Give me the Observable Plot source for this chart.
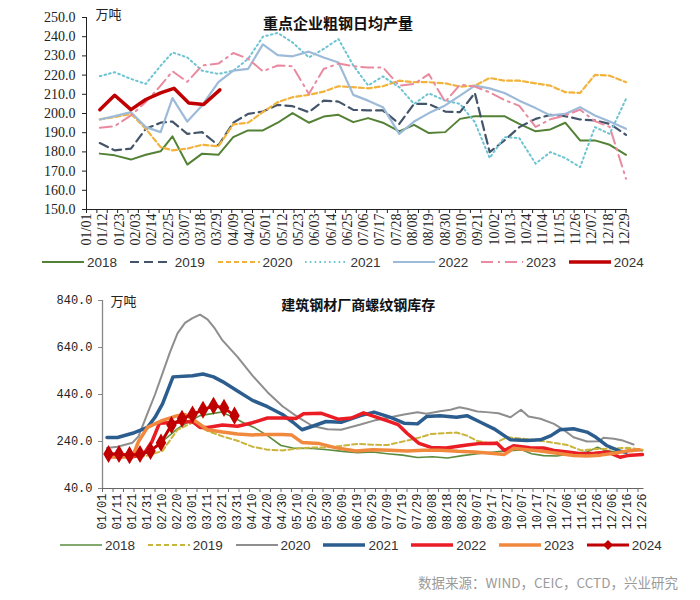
<!DOCTYPE html>
<html><head><meta charset="utf-8">
<script src="https://cdn.jsdelivr.net/npm/d3@7"></script>
<script src="https://cdn.jsdelivr.net/npm/@observablehq/plot@0.6"></script>
<style>
body{margin:0;background:#fff;}
#wrap{position:relative;width:700px;height:600px;overflow:hidden;background:#fff;}
.chart{position:absolute;left:0;}
.legend{position:absolute;display:flex;font-family:"Liberation Sans",Arial,sans-serif;font-size:13.5px;color:#333;height:16px;}
.legend .item{display:flex;align-items:center;width:87.8px;}
.legend svg{margin-right:3px;}
#source{position:absolute;right:22px;top:572px;font-family:"Noto Sans CJK SC",sans-serif;font-size:13.5px;color:#9a9a9a;}
</style></head>
<body>
<div id="wrap">
  <div id="top" class="chart" style="top:0px"></div>
  <div id="legTop" class="legend" style="left:42px;top:254px"></div>
  <div id="bot" class="chart" style="top:280px"></div>
  <div id="legBot" class="legend" style="left:60px;top:537px"></div>
  <div id="source">数据来源：WIND，CEIC，CCTD，兴业研究</div>
</div>
<script>
// ---------- data ----------
const years = ["2018","2019","2020","2021","2022","2023","2024"];
const titleTop = "重点企业粗钢日均产量";
const titleBot = "建筑钢材厂商螺纹钢库存";
const unit = "万吨";

// top chart: crude steel daily output (day-of-year of each dekad end)
const topDays = [10,20,31,41,51,59,69,79,90,100,110,120,130,140,151,161,171,181,191,201,212,222,232,243,253,263,273,283,293,304,314,324,334,344,354,365];
const out2018 = [179.1,178.2,176,178.5,180.3,188.1,173.4,179.1,178.5,187.7,191.2,191.2,195.2,200.2,195.2,198.4,199.3,195.5,197.6,195.2,190.7,194.1,189.8,190.3,197.2,198.6,198.6,198.6,194.6,190.7,191.7,195.2,186,186,183.7,178.5];
const out2019 = [184.6,180.8,181.7,192,195.2,195.8,189.4,190.3,183.4,195.2,199.8,201,204.5,203.8,200.7,206.7,206.2,201.9,201.6,201.6,194.6,205,205,201,200.7,210.7,179.9,186,192.9,197.2,199.3,198.6,196.9,196.4,194.6,188.9];
const out2020 = [196.9,198.1,199.8,192,182.5,180.8,181.7,183.7,182.9,194.3,195.2,200.7,205.9,208.5,209.7,211.4,214.2,213.7,213.1,214.2,217.1,216.3,216.3,215.7,214,214.5,218.5,217.1,217.1,215.7,214.5,211.1,210.7,220.1,219.7,216.3];
const out2021 = [219.4,221.5,218,215.4,224.9,231.8,229.2,222.3,220.6,222.3,228.4,240,242,237,229.2,233.6,238.8,225,214.6,219.3,213.7,205,210.5,206.7,205,195.5,176.8,187.7,187.2,173.9,179.9,176.8,172.1,192.9,189.4,207.6];
const out2022 = [196.9,198.6,200.7,192.9,190.3,208,195.8,204.2,216.3,222.3,223.2,236,230.4,229.8,232.2,229.2,226.6,209.7,206.7,203.3,189.4,195.8,200.2,204.2,209.3,214.5,213.1,210.7,206.7,202.8,199,199.8,203.3,199,195.8,192];
const out2023 = [192.6,193.4,199,206,214.5,222,216.5,225,226,231.5,228.5,222,225,224.6,210.2,223.2,226,224.6,224,224,214.5,215.4,220.5,206,215,214,211,207,204,193,197,199,202,196,193,166];
const out2024Days = [10,20,31,41,51,60,70,80,91];
const out2024 = [202,209.5,202,207.3,210.7,213.1,205.5,204.7,212.3];

// bottom chart: rebar inventory at mills
const inv2018Days = [4,11,21,31,41,51,56,66,80,86,95,102,111,120,128,141,151,161,171,181,191,201,211,221,231,241,251,261,271,281,287,295,304,315,324,331,336,344,353,361];
const inv2018 = [190,188,185,190,240,295,315,350,365,350,320,300,265,223,212,210,205,198,192,195,188,182,172,175,170,180,188,194,201,204,188,180,178,190,195,216,202,195,204,201];
const inv2019Days = [4,11,21,31,41,51,61,66,71,81,91,101,111,121,131,141,151,161,171,181,191,204,213,220,237,244,251,261,271,281,291,301,311,320,331,341,351,361];
const inv2019 = [178,175,172,180,200,290,320,300,285,262,243,218,205,202,210,214,215,222,230,226,225,244,258,272,278,265,242,230,258,252,245,235,225,202,208,210,213,205];
const inv2020Days = [4,11,21,25,31,36,41,46,51,56,61,66,71,76,81,91,101,111,121,131,141,151,160,173,182,193,202,211,217,226,233,239,244,251,257,265,273,280,285,293,302,309,315,324,332,335,342,348,355];
const inv2020 = [212,218,235,262,360,440,530,620,700,745,765,780,760,720,670,600,520,450,390,345,306,292,290,312,329,343,355,364,358,369,375,386,379,368,365,360,343,375,346,337,315,287,258,240,241,256,252,244,227];
const inv2021Days = [4,11,21,31,36,41,48,61,68,75,81,91,101,111,121,128,134,141,150,160,173,182,193,202,211,217,226,237,244,253,262,273,284,293,300,306,315,324,330,337,346,350];
const inv2021 = [257,257,275,300,343,400,515,520,527,515,495,455,415,388,355,322,290,305,325,322,350,365,343,318,315,346,350,343,350,322,294,247,244,247,265,290,294,280,258,223,199,194];
const inv2022Days = [4,11,21,28,34,39,51,61,66,71,81,91,101,111,121,130,135,147,158,167,175,183,191,198,204,212,220,230,244,253,264,269,275,286,295,302,311,320,329,338,346,351,361];
const inv2022 = [180,178,176,182,240,318,322,325,300,300,310,305,320,340,340,338,358,360,335,340,362,345,328,312,275,232,215,212,225,232,233,202,222,213,212,202,195,188,190,195,173,180,185];
const inv2023Days = [4,11,21,25,31,41,51,56,61,71,81,91,101,111,121,127,134,145,156,170,181,193,204,215,226,238,249,260,269,275,284,293,304,315,324,333,342,351,359];
const inv2023 = [175,173,175,240,300,330,350,355,335,290,280,272,268,270,270,268,236,232,214,200,205,203,200,203,203,198,195,190,185,211,205,200,190,180,178,182,190,200,205];
const inv2024Days = [5,12,19,26,33,40,47,54,61,68,75,82,89];
const inv2024 = [187,187,182,187,200,235,310,337,355,375,392,383,350];

// axis ticks
const topYTicks = [150,160,170,180,190,200,210,220,230,240,250];
const topXLabelDays = d3.range(1, 366, 11);   // 01/01, 01/12 ... 12/29
const botYTicks = [40,240,440,640,840];
const botXLabelDays = d3.range(1, 362, 10);   // 01/01, 01/11 ... 12/26
const weekDays = d3.range(1, 367, 7);

// ---------- styles ----------
const topStyles = {
  "2018": {color:"#538135", w:2, dash:null},
  "2019": {color:"#44546a", w:2.2, dash:"9 5"},
  "2020": {color:"#f2b33d", w:2.2, dash:"5 3"},
  "2021": {color:"#6cc4d2", w:2, dash:"1.6 3.2"},
  "2022": {color:"#9dbbd8", w:2.2, dash:null},
  "2023": {color:"#ea8aa0", w:2, dash:"12 5 2 5"},
  "2024": {color:"#c00000", w:3.5, dash:null}
};
const botStyles = {
  "2018": {color:"#5b8c3e", w:1.6, dash:null},
  "2019": {color:"#c9b43c", w:2, dash:"5 3"},
  "2020": {color:"#8e8e8e", w:2, dash:null},
  "2021": {color:"#2b5d8e", w:3.5, dash:null},
  "2022": {color:"#ea1c24", w:3.5, dash:null},
  "2023": {color:"#f0883e", w:3.5, dash:null},
  "2024": {color:"#c00000", w:3, dash:null, marker:true}
};

const rows = (days, vals) => days.map((d, i) => ({d, v: vals[i]}));
const md = d => d3.utcFormat("%m/%d")(new Date(Date.UTC(2024, 0, d)));

const topSeries = {
  "2018": rows(topDays, out2018), "2019": rows(topDays, out2019), "2020": rows(topDays, out2020),
  "2021": rows(topDays, out2021), "2022": rows(topDays, out2022), "2023": rows(topDays, out2023),
  "2024": rows(out2024Days, out2024)
};
const botSeries = {
  "2018": rows(inv2018Days, inv2018), "2019": rows(inv2019Days, inv2019), "2020": rows(inv2020Days, inv2020),
  "2021": rows(inv2021Days, inv2021), "2022": rows(inv2022Days, inv2022), "2023": rows(inv2023Days, inv2023),
  "2024": rows(inv2024Days, inv2024)
};

const lineMarks = (series, styles) => years.map(y => Plot.line(series[y], {
  x: "d", y: "v", stroke: styles[y].color, strokeWidth: styles[y].w,
  strokeDasharray: styles[y].dash || undefined, strokeLinejoin: "round"
}));

// ---------- top chart ----------
const topPlot = Plot.plot({
  width: 700, height: 255,
  marginLeft: 86, marginRight: 73, marginTop: 17, marginBottom: 46,
  style: {fontFamily: "'Liberation Serif', serif", fontSize: "14px", color: "#222", background: "transparent", overflow: "visible"},
  x: {domain: [1, 366]},
  y: {domain: [150, 250]},
  marks: [
    Plot.axisY({ticks: topYTicks, tickFormat: d => d.toFixed(1), tickSize: 4, tickPadding: 7, label: null, fontSize: 14}),
    Plot.axisX({ticks: weekDays, tickFormat: () => "", tickSize: 4, label: null}),
    Plot.axisX({ticks: topXLabelDays, tickFormat: md, tickSize: 0, tickPadding: 4, tickRotate: -90, label: null, fontSize: 14}),
    Plot.ruleX([1], {stroke: "#222"}),
    Plot.ruleY([150], {stroke: "#222"}),
    ...lineMarks(topSeries, topStyles),
    Plot.text([titleTop], {frameAnchor: "top", dx: -19, dy: 1, fontFamily: "'Noto Sans CJK SC', sans-serif", fontWeight: "bold", fontSize: 15, fill: "#111", style: "letter-spacing:2px"}),
    Plot.text([unit], {frameAnchor: "top-left", dx: 9, dy: -8, textAnchor: "start", fontFamily: "'Noto Sans CJK SC', sans-serif", fontSize: 13, fill: "#222"})
  ]
});
document.getElementById("top").appendChild(topPlot);

// ---------- bottom chart ----------
const botPlot = Plot.plot({
  width: 700, height: 255,
  marginLeft: 102, marginRight: 56.5, marginTop: 20, marginBottom: 47,
  style: {fontFamily: "'Liberation Mono', monospace", fontSize: "12px", color: "#222", background: "transparent", overflow: "visible"},
  x: {domain: [1, 362]},
  y: {domain: [40, 840]},
  marks: [
    Plot.axisY({ticks: botYTicks, tickFormat: d => d.toFixed(1), tickSize: 4, tickPadding: 6, label: null, fontSize: 12, stroke: "#888"}),
    Plot.axisX({ticks: weekDays.filter(d => d <= 362), tickFormat: () => "", tickSize: 4, label: null, stroke: "#666"}),
    Plot.axisX({ticks: botXLabelDays, tickFormat: md, tickSize: 0, tickPadding: 5, tickRotate: -90, label: null, fontSize: 12}),
    Plot.ruleX([1], {stroke: "#888", strokeWidth: 1.3}),
    Plot.ruleY([40], {stroke: "#666"}),
    ...lineMarks(botSeries, botStyles),
    Plot.dot(botSeries["2024"], {x: "d", y: "v", symbol: "diamond", r: 5.5, fill: botStyles["2024"].color, stroke: "none"}),
    Plot.text([titleBot], {frameAnchor: "top", dx: -15, dy: 0, fontFamily: "'Noto Sans CJK SC', sans-serif", fontWeight: "bold", fontSize: 14, fill: "#111", style: "letter-spacing:1.8px"}),
    Plot.text([unit], {frameAnchor: "top-left", dx: 8, dy: -4, textAnchor: "start", fontFamily: "'Noto Sans CJK SC', sans-serif", fontSize: 13, fill: "#222"})
  ]
});
document.getElementById("bot").appendChild(botPlot);

// ---------- legends ----------
function buildLegend(el, styles) {
  years.forEach(y => {
    const s = styles[y];
    const div = document.createElement("div");
    div.className = "item";
    const marker = s.marker ? `<path d="M21,2 L26,7 L21,12 L16,7Z" fill="${s.color}"/>` : "";
    div.innerHTML = `<svg width="42" height="14"><line x1="0" x2="42" y1="7" y2="7" stroke="${s.color}" stroke-width="${s.w}" ${s.dash ? `stroke-dasharray="${s.dash}"` : ""}/>${marker}</svg><span>${y}</span>`;
    el.appendChild(div);
  });
}
buildLegend(document.getElementById("legTop"), topStyles);
buildLegend(document.getElementById("legBot"), botStyles);
</script>
</body></html>
